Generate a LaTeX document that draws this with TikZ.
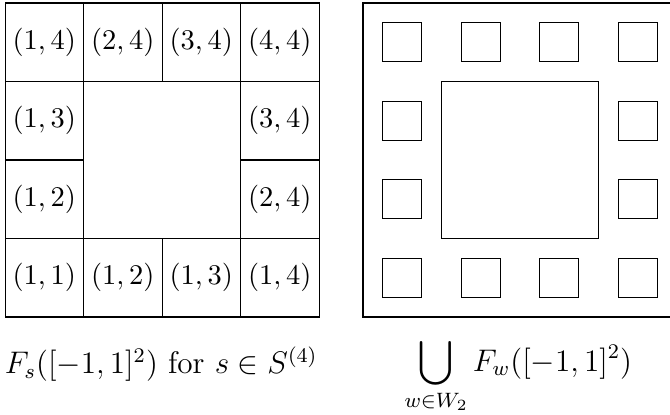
\documentclass[tikz,border=0pt]{standalone}
\usepackage{amsmath,amssymb}
\usetikzlibrary{positioning}
\tikzset{
  cell/.style={draw, minimum width=1.06cm, minimum height=1.06cm, inner sep=0pt,
               font=\fontsize{11}{13}\selectfont},
  hole/.style={draw, minimum width=2.12cm, minimum height=2.12cm, inner sep=0pt},
  piece/.style={draw, minimum width=0.53cm, minimum height=0.53cm, inner sep=0pt},
  caption/.style={anchor=base, inner sep=0pt, font=\large},
}
\begin{document}
\begin{tikzpicture}[x=1.06cm, y=1.06cm]
  \useasboundingbox (-0.064,-1.236) rectangle (8.471,4.038);
  % left: the squares F_s, s in S^(4)
  \node[cell] (c14a) at (0.5,3.5) {$(1,4)$};
  \node[cell] (c24a) at (1.5,3.5) {$(2,4)$};
  \node[cell] (c34a) at (2.5,3.5) {$(3,4)$};
  \node[cell] (c44)  at (3.5,3.5) {$(4,4)$};
  \node[cell] (c13a) at (0.5,2.5) {$(1,3)$};
  \node[cell] (c34b) at (3.5,2.5) {$(3,4)$};
  \node[cell] (c12a) at (0.5,1.5) {$(1,2)$};
  \node[cell] (c24b) at (3.5,1.5) {$(2,4)$};
  \node[cell] (c11)  at (0.5,0.5) {$(1,1)$};
  \node[cell] (c12b) at (1.5,0.5) {$(1,2)$};
  \node[cell] (c13b) at (2.5,0.5) {$(1,3)$};
  \node[cell] (c14b) at (3.5,0.5) {$(1,4)$};
  \node[hole] (mid) at (2,2) {};
  \node[caption] (capl) at (1.99,-0.72) {$F_s([-1,1]^2)$ for $s\in S^{(4)}$};
  % right: the union over W_2
  \draw (4.56,0) rectangle (8.56,4);
  \node[piece] (w11) at (5.06,3.5) {};
  \node[piece] (w12) at (6.06,3.5) {};
  \node[piece] (w13) at (7.06,3.5) {};
  \node[piece] (w14) at (8.06,3.5) {};
  \node[piece] (w21) at (5.06,2.5) {};
  \node[piece] (w24) at (8.06,2.5) {};
  \node[piece] (w31) at (5.06,1.5) {};
  \node[piece] (w34) at (8.06,1.5) {};
  \node[piece] (w41) at (5.06,0.5) {};
  \node[piece] (w42) at (6.06,0.5) {};
  \node[piece] (w43) at (7.06,0.5) {};
  \node[piece] (w44) at (8.06,0.5) {};
  \node[hole] (core) at (6.56,2) {};
  \node[caption] (capr) at (6.54,-0.69) {$\displaystyle\bigcup_{w\in W_2} F_w([-1,1]^2)$};
\end{tikzpicture}
\end{document}
